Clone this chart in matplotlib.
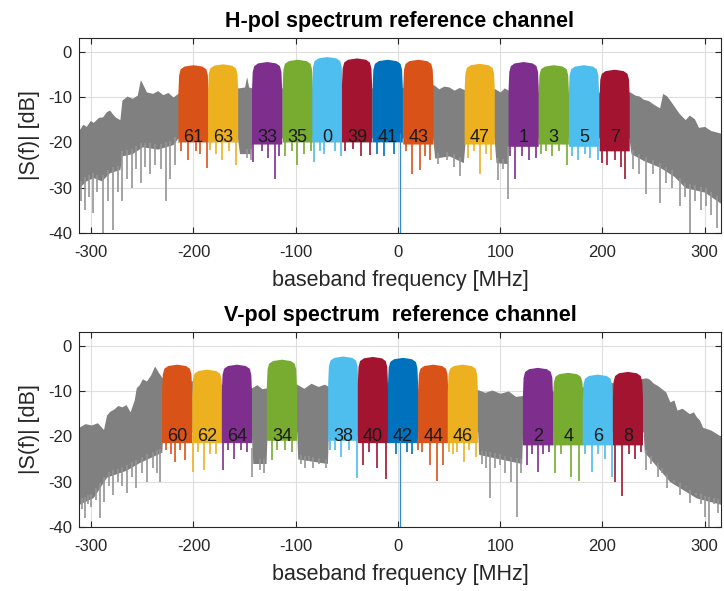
import numpy as np
import matplotlib
matplotlib.use("Agg")
import matplotlib.pyplot as plt

plt.rcParams["font.family"] = ["Liberation Sans", "DejaVu Sans"]
plt.rcParams["axes.unicode_minus"] = False

# MATLAB default colour order (channels cycle through it)
colors = ["#D95319", "#EDB120", "#7E2F8E", "#77AC30", "#4DBEEE", "#A2142F", "#0072BD"]

# ---------------- H-pol data ----------------
h_labels = ["61", "63", "33", "35", "0", "39", "41", "43", "47", "1", "3", "5", "7"]
h_center = [-200, -171, -128, -98, -69, -40, -10, 20, 80, 123, 152.5, 182, 212]
h_top = [-3.0, -2.8, -2.3, -1.8, -1.2, -1.5, -1.8, -1.8, -2.7, -2.3, -3.0, -3.0, -4.0]
h_floor = [-20, -20, -20.5, -20, -20, -20, -20, -20.5, -20.5, -21, -20.5, -21, -22]

h_gray_up_f = [-312, -308, -305, -301, -298, -293, -289, -285, -282, -279, -276, -272, -270,
               -265, -260, -255, -252, -249, -246, -240, -235, -230, -225, -220, -214, -186,
               -156, -150, -148, -146, -143, -100, 0, 35, 40, 45, 50, 55, 60, 65, 95, 100, 104, 108, 150,
               227, 232, 236, 240, 245, 250, 256, 259, 263, 267, 270, 275, 281, 285, 290, 294, 300, 306, 316]
h_gray_up_db = [-17.3, -16.0, -16.5, -15.2, -15.6, -14.5, -14.4, -13.2, -12.9, -13.8, -14.5, -15, -10.7,
                -9.8, -10.3, -9.6, -6.2, -7.5, -8.9, -9.2, -8.6, -9.5, -9.0, -10, -9, -8,
                -8, -7.8, -5.5, -7.8, -8, -8, -8, -7.3, -8.2, -7.6, -7.8, -8.5, -7.9, -8.4, -8.2, -8.9, -8.0, -8.5, -9,
                -8.9, -9.6, -9.8, -10.5, -10.8, -11.6, -12.4, -9.2, -9.8, -11.0, -12, -13.6, -15, -14, -14.8, -16.7, -16.5, -17.4, -18]
h_gray_lo_f = [-312, -305, -298, -290, -282, -272, -270, -260, -250, -235, -220, -215,
               -157, -155, -144, -142, 34, 36, 50, 64, 66, 94, 96, 107, 109, 226, 228,
               240, 256, 270, 281, 300, 316]
h_gray_lo_db = [-30, -28.5, -27.8, -28.5, -26.7, -26, -23, -22.5, -21, -21.5, -20.5, -19,
                -19, -22.5, -22.5, -19, -19, -23.5, -23, -24.5, -19, -19, -24.5, -24.7, -19, -19, -22.5,
                -24, -25.5, -27.5, -30, -31, -33.5]
h_gray_dip_f = [-310, -306, -302, -298, -294, -289, -284, -279, -274, -270, -265, -260, -256,
                -251, -247, -243, -238, -232, -227, -223, -218, -148, -144,
                39.5, 48, 55, 60.7, 98, 103, 108, 230, 236, 243, 250, 256, 262, 268, 276, 281,
                286, 291, 296, 301, 306, 312]
h_gray_dip_db = [-33, -35, -32, -35.5, -31, -40, -33, -39.3, -31, -33, -28, -30, -26,
                 -29, -25.5, -27, -25, -26, -33, -28, -25, -23.5, -24,
                 -24.7, -24, -25.5, -27.5, -28.4, -26, -32.6, -25.8, -27, -31.5, -27, -33.4, -29, -30, -34, -32,
                 -40, -33, -35, -34, -36, -38.8]
h_ch_dip_f = [-212, -205, -198, -194, -187, -184, -178, -172, -165, -158, -142, -133, -127, -120, -116,
              -110, -104, -99, -92, -85, -82, -76, -72, -62, -56, -52, -44, -36, -27, -20, -14, -4,
              8, 13.4, 21.5, 26, 31, 68.5, 74, 80, 86, 91, 110, 114.5, 121, 128, 135, 140, 145, 151,
              158, 165, 170, 176, 183, 188, 196, 200, 205, 212, 218, 222]
h_ch_dip_db = [-22, -23.8, -22, -22.5, -25.6, -21.6, -22.5, -23.8, -22, -25, -24.3, -22, -23.5, -28, -23,
               -23, -22, -25, -22.5, -22, -24.3, -22, -22.5, -22, -23, -22, -21.5, -23, -22.7, -22.5, -23, -22.5,
               -22, -27, -26.2, -23, -24, -23.4, -22, -27, -22.5, -23.8, -23, -28.1, -23, -24, -23.4, -22.5,
               -22, -23, -22, -25, -23, -23.8, -22.5, -23.5, -24, -24.5, -25, -24, -25.5, -28.1]

# ---------------- V-pol data ----------------
v_labels = ["60", "62", "64", "34", "38", "40", "42", "44", "46", "2", "4", "6", "8"]
v_center = [-216, -186.5, -157.5, -113.5, -53.5, -24.5, 5, 34.5, 63.5, 137, 166.5, 195.5, 225]
v_top = [-4.2, -5.3, -4.2, -3.1, -2.4, -2.5, -2.7, -4.2, -4.2, -4.9, -6.0, -6.4, -5.8]
v_floor = [-21.5, -21.5, -21.5, -21, -21, -21.5, -21.5, -21.5, -21.5, -22, -22, -22, -22]

v_gray_up_f = [-312, -306, -300, -294, -288, -285, -282, -278, -274, -270, -266, -262, -258, -256, -253,
               -250, -246, -242, -238, -234, -231,
               -143, -138, -133, -128, -99, -92, -85, -78, -72, -68, 78, 85, 92, 100, 108, 115, 122,
               243, 246, 250, 254, 258, 262, 266, 270, 273, 278, 285, 289, 292, 295, 298, 306, 316]
v_gray_up_db = [-18, -17.2, -17.5, -17.0, -18.5, -15.3, -14.5, -14, -13.2, -13.5, -13, -14.6, -12, -9.3, -8.6,
                -7.3, -7.8, -6.5, -4.5, -6.0, -7,
                -9.3, -8.6, -9.5, -9.3, -8.5, -9.4, -8.3, -9.0, -8.5, -9, -9.7, -10.3, -9.8, -10.5, -10.0, -11.2, -11,
                -7.1, -7.4, -8.3, -8.8, -9.5, -10.2, -12.4, -12.0, -14.2, -13.8, -15, -14.6, -15.7, -16.4, -18, -18.6, -20]
v_gray_lo_f = [-312, -298, -285, -266, -253, -231, -230, -143.5, -142, -129, -128, -99, -98, -69, -68,
               78, 79, 121, 122, 240, 241, 266, 292, 316]
v_gray_lo_db = [-35, -33.5, -29, -27.5, -25.8, -23.5, -19, -19, -26, -26, -19, -19, -25, -26, -19,
                -19, -24, -26, -19, -19, -23.5, -30, -33.6, -35]
v_gray_dip_f = [-309, -306, -303, -300, -295, -291.5, -288, -283, -279, -274, -270, -265.5, -260, -256,
                -250, -245, -240, -236, -233, -142.5, -135, -131,
                -95, -91, -87, -83, -77, -70, 82, 86, 90, 95, 99.8, 105, 111, 116, 120,
                243, 248, 254, 258, 263, 270, 276, 282, 286, 292, 296, 300.5, 304, 309, 313.5]
v_gray_dip_db = [-36, -38.1, -35, -35.6, -34, -38.1, -34.4, -31, -33, -30, -31, -32.6, -29, -31.5,
                 -28, -30, -27, -28, -30, -29, -27.5, -28,
                 -26, -27, -25.5, -27, -26, -27, -26, -27, -33.7, -27, -26.3, -28, -30, -37.7, -28,
                 -27.4, -26, -29, -28, -31.5, -30, -33, -31, -34.8, -33, -35, -37.7, -40, -35, -36.9]
v_ch_dip_f = [-227, -222, -218, -213, -208, -200.6, -196, -190, -184, -178, -171.5, -166, -160, -154, -148,
              -123.5, -118, -110.5, -104, -66, -62, -56, -48, -40.4, -34.5, -28, -20.5, -11.5,
              -2, 9, 14, 20, 24, 31.5, 37.8, 44, 50, 54, 58, 64.5, 70, 76, 126, 131,
              137, 142, 148, 153.5, 160, 169.5, 177.5, 183, 189.5, 196, 203, 209.5, 212, 219, 226, 232, 238]
v_ch_dip_db = [-23, -24, -25.6, -23, -25.2, -27.8, -23.5, -27.4, -24, -24, -27.4, -23, -25, -23, -23.5,
               -25.2, -23, -23, -23.5, -23, -23, -24.5, -23, -29.2, -26.3, -23.5, -27, -29.4,
               -24, -23.5, -24, -23, -23.5, -26.3, -29.8, -26.3, -23.5, -24, -23.5, -25.6, -23, -24.5, -26.3, -24,
               -27.8, -24, -23.5, -28.2, -24, -29, -29.8, -24, -27.8, -24, -25, -29, -30.1, -33.1, -24, -25, -23.5]

dc_f = 2

# channel outline template (relative to channel edge), purely a drawing style
HALF = 14.75
edge_dx = [0, 0, 0.7, 2.2, 6.0, 14.75]
edge_dy = [None, -6, -2.2, -0.9, -0.3, 0]


def channel_poly(c, top, floor):
    xs, ys = [], []
    for dx, dy in zip(edge_dx, edge_dy):
        xs.append(c - HALF + dx)
        ys.append(floor if dy is None else top + dy)
    for dx, dy in zip(reversed(edge_dx), reversed(edge_dy)):
        xs.append(c + HALF - dx)
        ys.append(floor if dy is None else top + dy)
    return xs, ys


def draw_panel(ax, title, labels, center, top, floor, up_f, up_db, lo_f, lo_db,
               gdip_f, gdip_db, cdip_f, cdip_db, label_y):
    gray = "#808080"
    fgrid = np.linspace(-312, 316, 2513)
    up = np.interp(fgrid, up_f, up_db)
    lo = np.interp(fgrid, lo_f, lo_db)
    ax.fill_between(fgrid, lo, up, color=gray, lw=0, zorder=2)
    ax.vlines(gdip_f, np.interp(gdip_f, lo_f, lo_db) + 1, gdip_db, color="#959595", lw=1.2, zorder=2)

    for i, (c, t, fl) in enumerate(zip(center, top, floor)):
        col = colors[i % len(colors)]
        xs, ys = channel_poly(c, t, fl)
        ax.fill(xs, ys, color=col, lw=0, zorder=3)
    # dips within channels, coloured by the channel they sit in
    center_arr = np.array(center)
    for f, d in zip(cdip_f, cdip_db):
        i = int(np.argmin(np.abs(center_arr - f)))
        ax.vlines(f, floor[i] + 1, d, color=colors[i % len(colors)], lw=1.2, zorder=3)
    # DC line
    ax.vlines(dc_f, -18, -40, color="#2b8ad0", lw=0.9, zorder=4)

    for lab, c in zip(labels, center):
        ax.text(c, label_y, lab, ha="center", va="center", fontsize=13, color="#1a1a1a", zorder=5)

    ax.set_xlim(-312, 316)
    ax.set_ylim(-40, 3)
    ax.set_xticks([-300, -200, -100, 0, 100, 200, 300])
    ax.set_yticks([-40, -30, -20, -10, 0])
    ax.grid(True, color="#dedede", lw=0.8)
    ax.set_axisbelow(True)
    ax.tick_params(direction="in", top=True, right=True, labelsize=12, colors="#262626",
                   length=4)
    ax.tick_params(axis="x", pad=9)
    ax.tick_params(axis="y", pad=5)
    for s in ax.spines.values():
        s.set_color("#262626")
        s.set_linewidth(0.8)
    ax.set_xlabel("baseband frequency [MHz]", fontsize=15.5, color="#262626", labelpad=7)
    ax.set_ylabel("|S(f)| [dB]", fontsize=15.5, color="#262626", labelpad=6)
    ax.set_title(title, fontsize=15.5, fontweight="bold", color="black", pad=8)


fig = plt.figure(figsize=(7.24, 5.91), dpi=100)
ax1 = fig.add_axes([0.1091, 0.6058, 0.8867, 0.3299])
ax2 = fig.add_axes([0.1091, 0.1083, 0.8867, 0.3299])

draw_panel(ax1, "H-pol spectrum reference channel", h_labels, h_center, h_top, h_floor,
           h_gray_up_f, h_gray_up_db, h_gray_lo_f, h_gray_lo_db,
           h_gray_dip_f, h_gray_dip_db, h_ch_dip_f, h_ch_dip_db, -19)
draw_panel(ax2, "V-pol spectrum  reference channel", v_labels, v_center, v_top, v_floor,
           v_gray_up_f, v_gray_up_db, v_gray_lo_f, v_gray_lo_db,
           v_gray_dip_f, v_gray_dip_db, v_ch_dip_f, v_ch_dip_db, -20)

fig.savefig("out.png", dpi=100)
